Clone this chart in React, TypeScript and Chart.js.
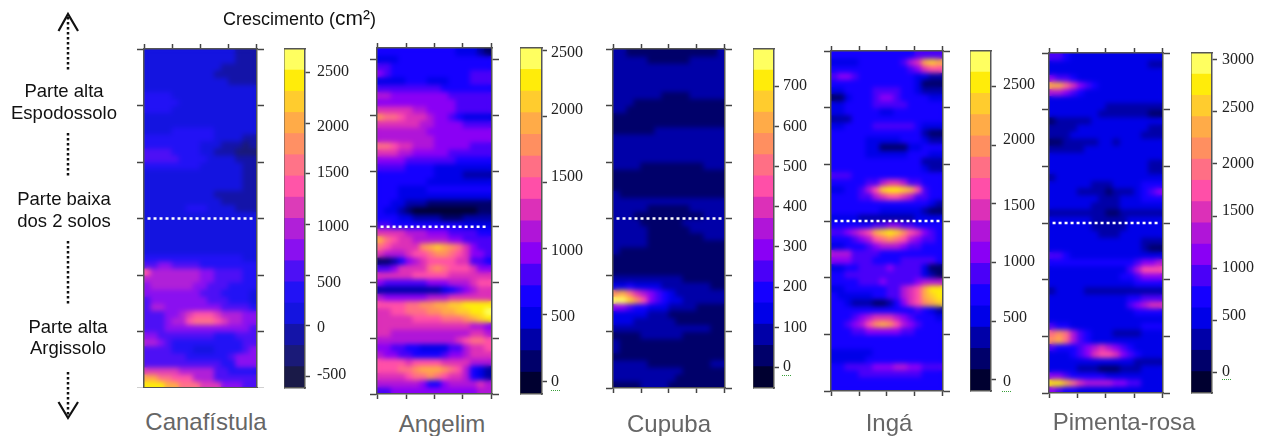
import React, { useEffect, useRef } from "react";
import { Chart, registerables } from "chart.js";

Chart.register(...registerables);

// Contour level (hex digit 0-f, one colour band) per cell, top row first.
const canafistulaGrid = [
  "3333333333333222","3333333333333222","3333333333322222","3333333333222222",
  "3333333333332222","3333333333333333","4444333333333333","4444433333333333",
  "4444333333333333","3333333333333333","3333333333333333","3333444444333333",
  "4444444444333322","4444444433322212","5555444433222111","5555544443333222",
  "4444444433333322","3333333333333322","3333333333333322","3333333333333322",
  "3333333333222222","3333333333322222","3333334443333222","3333333333333333",
  "3333333333333333","3333333333333333","3333333333333333","3333333333333333",
  "3333333333333333","4444444444444433","5566555544444444","9777777766555544",
  "7777777766555544","6777777665554444","6666666655544443","5666666665554443",
  "5776666666655554","5556678999877766","5556779aaa987766","5556666666666665",
  "6655555555444555","7765444444444455","5555444333444456","5555554444445666",
  "5555555555544666","8888877777554444","ccaa999777555555","eeeccaaa88866655",
];
const angelimGrid = [
  "4444444444433321","3334444444444444","5544444444444444","6544444444444555",
  "3333444333444555","5555555554444444","7766666666555555","6666666666655555",
  "8888877666655555","baa9888766543333","8888887766665555","7777777666666666",
  "7777777766666666","aa98877766666555","8887766666555555","6666555555544444",
  "5555444433333333","4444444433332222","4444444333333333","4443333444444444",
  "4443333333333333","4433222111111111","4332100000000011","4443322221112222",
  "5544444444443333","8888777666555544","ca98877777665555","a98888bcdcba8655",
  "8777899abba98665","1124678999988554","5568888aba999866","8888899999888888",
  "6555555666777899","2222222223456788","7666666777888888","9999aabbccddeeee",
  "8899aaabbccddeef","888889999aaabcde","8888888888888776","8877777777777887",
  "7777777777789aa9","6655443333557889","7665544445667888","9999899998888777",
  "999aabcccba97432","88889aaba9887432","7777776446777787","5566666666666677",
];
const cupubaGrid = [
  "2211111111111112","2222211111122222","2222222222222222","2222222222222222",
  "2222222222222222","2222222222222222","2222222111122222","2221111111111111",
  "2211111111111111","1111111111111111","1111111111111111","1111112222222222",
  "2222222222222222","2222222222222222","2222222222222222","2222222222222222",
  "2222111111111222","1111111111111111","1111111111111111","1111111111111111",
  "2111111111111111","2222222222222222","2222211111122222","2221111111111222",
  "2222111111222222","2222211111122222","2222211111111222","2222211111111111",
  "2111111111111111","1111111111111111","1111111111111111","1111111111111111",
  "2222222222111111","3343333222222211","bca8765432222222","ffdb965433222222",
  "6654433322221111","3333322211111111","3332222221111111","2222222222222211",
  "1111222222111111","2111111111111111","2111111111111111","1111111111111111",
  "2222211111111122","2222222222111111","2222222221111111","1111222211111111",
];
const ingaGrid = [
  "4444444444445555","3333444444578cdc","4444444444456899","5665444444443322",
  "4444444444443111","3344445555443222","1134445665444433","3344445555544444",
  "3344444334444444","2224444444444444","3344445555554333","4444444444444211",
  "4444433333444322","4444433111133444","4444433333344433","4444444444444222",
  "4444444444444322","5554444444444444","4444455788755444","3344579deedc9544",
  "4444557899875544","4444444444444432","4444444333333211","3333222222223333",
  "4444445566554444","556789cdedb98654","4445679aba976554","3344456777655444",
  "7775555444444444","6665554444555554","3344555565555311","4455555555555321",
  "4444555655556777","3344444455789cee","4333334455789cde","4432221124689bcd",
  "4444444444445432","4445678887654443","445679bcb9765444","4445566666554444",
  "4444444444444444","4444444444444444","3333334444444444","3333344444444444",
  "4455556667766555","4444555555555444","4444444444444444","4444444444444444",
];
const pimentaGrid = [
  "5543333333333333","3333333333333322","3333333333333333","6554333333333333",
  "cca8654333333333","7765433333333333","3333333333333333","3333333322222222",
  "3333333222222211","1222223333333333","2222333333333322","2223333333333222",
  "1122222332333333","2222233333333333","3333333333333333","3333333333333322",
  "3333333333333322","2333333333333333","3333332223333444","3333222212223456",
  "3333333222333444","3333332222333333","2222222211222222","3333332222233333",
  "3333332222233333","3333333222333333","3333333333333222","3333333333333211",
  "5543333333333333","4444444444445667","3333333333357999","3333333333445666",
  "3333333333334444","2333322222222222","3333333333344555","3333333333356788",
  "3333333333334444","3333333333333333","5443333333333444","aba7543332222333",
  "bca7543333333333","5444567876543333","3334568998654333","3333333333332222",
  "3333222111222333","6654444433333333","eeca877776655333","6544333333333333",
];

// Colour-bar band edges and tick labels
const canafistulaEdges = [-612,-403,-194,15,224,433,641,850,1059,1268,1477,1686,1895,2103,2312,2521,2730];
const angelimEdges = [-98,66,229,392,556,720,883,1046,1210,1374,1537,1700,1864,2028,2191,2355,2518];
const cupubaEdges = [-52,1,54,107,160,212,265,318,371,424,477,530,583,636,689,741,794];
const ingaEdges = [-94,87,268,449,630,812,993,1174,1355,1536,1717,1898,2079,2261,2442,2623,2804];
const pimentaEdges = [-196,8,212,415,619,823,1027,1230,1434,1638,1842,2045,2249,2453,2657,2860,3064];

const canafistulaTicks = [-500,0,500,1000,1500,2000,2500];
const angelimTicks = [0,500,1000,1500,2000,2500];
const cupubaTicks = [0,100,200,300,400,500,600,700];
const ingaTicks = [0,500,1000,1500,2000,2500];
const pimentaTicks = [0,500,1000,1500,2000,2500,3000];

const basePalette = ["#000030","#00006a","#0000a8","#0000e8","#1500ff","#4a00f8","#8a00f5","#b015d8","#dc30b8","#ff4fa8","#ff6f85","#ff8f60","#ffab48","#ffcc2e","#ffec0a","#ffff60"];
const washedPalette = ["#1a1a48","#1a1a78","#1414a8","#1414e0","#2212f5","#4d10f5","#8a10f0","#b020d8","#dc3cb8","#ff55a8","#ff7388","#ff9064","#ffab48","#ffcc2e","#ffec0a","#ffff60"];

const panels = [
  { name: "Canafístula", grid: canafistulaGrid, edges: canafistulaEdges, ticks: canafistulaTicks, palette: washedPalette, bottom: false, yMax: 6,
    x: 144, y: 49, w: 113, h: 339, barX: 284, barW: 21, pad: 7, nameX: 206, nameY: 422, squiggle: null,
    labelY: [375,328,283,227,173,127,72] },
  { name: "Angelim", grid: angelimGrid, edges: angelimEdges, ticks: angelimTicks, palette: basePalette, bottom: true, yMax: 6.21,
    x: 377, y: 48, w: 115, h: 346, barX: 520, barW: 22, pad: 4, nameX: 442, nameY: 424, squiggle: [551, 390],
    labelY: [382,317,251,177,110,53] },
  { name: "Cupuba", grid: cupubaGrid, edges: cupubaEdges, ticks: cupubaTicks, palette: basePalette, bottom: true, yMax: 6,
    x: 613, y: 49, w: 112, h: 339, barX: 753, barW: 21, pad: 4, nameX: 669, nameY: 424, squiggle: [782, 375],
    labelY: [367,328,287,247,207,167,127,86] },
  { name: "Ingá", grid: ingaGrid, edges: ingaEdges, ticks: ingaTicks, palette: basePalette, bottom: true, yMax: 6,
    x: 831, y: 51, w: 112, h: 340, barX: 970, barW: 21, pad: 7, nameX: 889, nameY: 423, squiggle: [1002, 391],
    labelY: [382,318,262,206,140,85] },
  { name: "Pimenta-rosa", grid: pimentaGrid, edges: pimentaEdges, ticks: pimentaTicks, palette: basePalette, bottom: true, yMax: 6,
    x: 1049, y: 53, w: 114, h: 340, barX: 1191, barW: 21, pad: 5, nameX: 1124, nameY: 422, squiggle: [1222, 379],
    labelY: [372,316,268,211,164,108,60] },
];

const T = 5, S = 7;
const LINE = "#555";

function tickAxis(position: string, min: number, max: number, values: number[], len: number) {
  return {
    type: "linear",
    position,
    min,
    max,
    offset: false,
    afterBuildTicks: (a: any) => { a.ticks = values.map((value) => ({ value })); },
    ticks: { display: false, autoSkip: false },
    grid: { offset: false, drawOnChartArea: false, drawTicks: true, tickLength: len, tickColor: "#444", tickWidth: 1.5 },
    border: { display: true, color: LINE, width: 1.5, z: 2 },
  };
}

function frameAxis(position: string) {
  return {
    type: "linear",
    position,
    min: 0,
    max: 1,
    offset: false,
    ticks: { display: false },
    grid: { offset: false, drawOnChartArea: false, drawTicks: false },
    border: { display: true, color: LINE, width: 1.5, z: 2 },
  };
}

const softenPlugin = {
  id: "soften",
  beforeDatasetDraw(chart: any, args: any) {
    if (chart.data.datasets[args.index].type !== "line") return;
    const { ctx, canvas, chartArea: a } = chart;
    const w = a.right - a.left, h = a.bottom - a.top;
    ctx.save();
    ctx.beginPath();
    ctx.rect(a.left, a.top, w, h);
    ctx.clip();
    ctx.filter = "blur(2.5px)";
    ctx.drawImage(canvas, a.left, a.top, w, h, a.left, a.top, w, h);
    ctx.restore();
  },
};

function makeHeat(canvas: HTMLCanvasElement, p: any) {
  const cols = p.grid[0].length;
  const rows = p.grid.length;
  const labels = Array.from({ length: cols }, (_, i) => String(i));
  const cellSets = p.grid.map((row: string, r: number) => ({
    type: "bar",
    xAxisID: "x",
    yAxisID: "y",
    grouped: false,
    order: 1,
    barPercentage: 1,
    categoryPercentage: 1,
    borderWidth: 0,
    inflateAmount: 0.6,
    data: row.split("").map(() => [r, r + 1]),
    backgroundColor: row.split("").map((c) => p.palette[parseInt(c, 16)]),
  }));
  const divider = {
    type: "line",
    xAxisID: "x",
    yAxisID: "yLeft",
    order: -1,
    data: labels.map(() => 3),
    borderColor: "#ffffff",
    borderWidth: 2.5,
    borderDash: [3, 3],
    pointRadius: 0,
  };
  return new Chart(canvas, {
    type: "bar",
    data: { labels, datasets: [...cellSets, divider] },
    plugins: [softenPlugin],
    options: {
      animation: false,
      responsive: false,
      events: [],
      layout: { padding: 0 },
      plugins: { legend: { display: false }, tooltip: { enabled: false }, title: { display: false } },
      scales: {
        x: { type: "category", display: false, offset: true },
        y: { type: "linear", display: false, reverse: true, min: 0, max: rows },
        xTop: tickAxis("top", -0.03, 4.03, [0, 1, 2, 3, 4], T),
        xBottom: p.bottom ? tickAxis("bottom", -0.03, 4.03, [0, 1, 2, 3, 4], T) : frameAxis("bottom"),
        yLeft: tickAxis("left", 0, p.yMax, [0, 1, 2, 3, 4, 5, 6], S),
        yRight: tickAxis("right", 0, p.yMax, [0, 1, 2, 3, 4, 5, 6], S),
      },
    } as any,
  } as any);
}

function makeBar(canvas: HTMLCanvasElement, p: any) {
  const bands = p.palette.map((color: string, i: number) => ({
    grouped: false,
    barPercentage: 1,
    categoryPercentage: 1,
    borderWidth: 0,
    inflateAmount: 0.5,
    data: [[p.edges[i], p.edges[i + 1]]],
    backgroundColor: color,
  }));
  return new Chart(canvas, {
    type: "bar",
    data: { labels: [""], datasets: bands },
    options: {
      animation: false,
      responsive: false,
      events: [],
      layout: { padding: { top: 10, bottom: 10 } },
      plugins: { legend: { display: false }, tooltip: { enabled: false }, title: { display: false } },
      scales: {
        x: { type: "category", display: false },
        y: {
          type: "linear",
          position: "right",
          weight: 0,
          min: p.edges[0],
          max: p.edges[p.edges.length - 1],
          afterBuildTicks: (a: any) => { a.ticks = p.ticks.map((value: number) => ({ value })); },
          afterFit: (a: any) => { a.width = 5; a.paddingTop = 0; a.paddingBottom = 0; },
          ticks: { display: false, autoSkip: false },
          grid: { drawOnChartArea: false, drawTicks: true, tickLength: 5, tickColor: "#444", tickWidth: 1.5 },
          border: { display: true, color: LINE, width: 1.5, z: 2 },
        },
        // Text of the colour scale: the reference's labels sit a little off their tick marks.
        yText: {
          type: "linear",
          position: "right",
          weight: 1,
          reverse: true,
          min: p.y,
          max: p.y + p.h,
          afterBuildTicks: (a: any) => { a.ticks = p.labelY.map((value: number) => ({ value })); },
          afterFit: (a: any) => { a.width = 45; a.paddingTop = 0; a.paddingBottom = 0; },
          ticks: {
            autoSkip: false,
            padding: p.pad,
            color: "#222",
            font: { family: "'Liberation Serif', serif", size: 16 },
            callback: (_v: any, i: number) => String(p.ticks[i]),
          },
          grid: { drawOnChartArea: false, drawTicks: false },
          border: { display: false },
        },
        xTop: frameAxis("top"),
        xBottom: frameAxis("bottom"),
        yLeft: frameAxis("left"),
      },
    } as any,
  } as any);
}

function Label({ x, y, size = 18.5, color = "#111", children }: any) {
  return (
    <div
      style={{
        position: "absolute",
        left: x,
        top: y,
        transform: "translate(-50%, -50%)",
        whiteSpace: "nowrap",
        fontFamily: "'Liberation Sans', Arial, sans-serif",
        fontSize: size,
        lineHeight: 1,
        color,
      }}
    >
      {children}
    </div>
  );
}

const dottedRuns = [[17, 70], [133, 177], [241, 305], [372, 416]];

export default function App() {
  const heatRefs = useRef<(HTMLCanvasElement | null)[]>([]);
  const barRefs = useRef<(HTMLCanvasElement | null)[]>([]);
  useEffect(() => {
    const charts: any[] = [];
    panels.forEach((p, i) => {
      charts.push(makeHeat(heatRefs.current[i]!, p));
      charts.push(makeBar(barRefs.current[i]!, p));
    });
    return () => charts.forEach((c) => c.destroy());
  }, []);

  return (
    <div style={{ position: "absolute", left: 0, top: 0, width: 1268, height: 436, overflow: "hidden", background: "#fff" }}>
      {panels.map((p, i) => (
        <React.Fragment key={p.name}>
          <canvas
            ref={(el) => { heatRefs.current[i] = el; }}
            width={p.w + 2 * S}
            height={p.h + T + (p.bottom ? T : 0)}
            style={{ position: "absolute", left: p.x - S, top: p.y - T }}
          />
          <canvas
            ref={(el) => { barRefs.current[i] = el; }}
            width={p.barW + 50}
            height={p.h + 20}
            style={{ position: "absolute", left: p.barX, top: p.y - 10 }}
          />
          <Label x={p.nameX} y={p.nameY} size={24} color="#666">{p.name}</Label>
          {p.squiggle && (
            <div style={{ position: "absolute", left: p.squiggle[0], top: p.squiggle[1], width: 9, height: 0, borderBottom: "1.5px dotted #3aa03a" }} />
          )}
        </React.Fragment>
      ))}

      <svg width={1268} height={436} style={{ position: "absolute", left: 0, top: 0, pointerEvents: "none" }}>
        {dottedRuns.map(([a, b]) => (
          <line key={a} x1={68} y1={a} x2={68} y2={b} stroke="#111" strokeWidth={2.5} strokeDasharray="2.5 2.5" />
        ))}
        <polyline points="58.5,31 68,14 78,31" fill="none" stroke="#111" strokeWidth={2.2} />
        <polyline points="58.5,402 68,418 78,402" fill="none" stroke="#111" strokeWidth={2.2} />
      </svg>

      <div style={{ position: "absolute", left: 223, top: 7, whiteSpace: "nowrap", fontFamily: "'Liberation Sans', Arial, sans-serif", fontSize: 18, lineHeight: "22px", color: "#111" }}>
        Crescimento (<span style={{ fontSize: 21 }}>cm²</span>)
      </div>

      <Label x={64} y={91}>Parte alta</Label>
      <Label x={64} y={113}>Espodossolo</Label>
      <Label x={64} y={199}>Parte baixa</Label>
      <Label x={64} y={221}>dos 2 solos</Label>
      <Label x={68} y={327}>Parte alta</Label>
      <Label x={68} y={348}>Argissolo</Label>
    </div>
  );
}
